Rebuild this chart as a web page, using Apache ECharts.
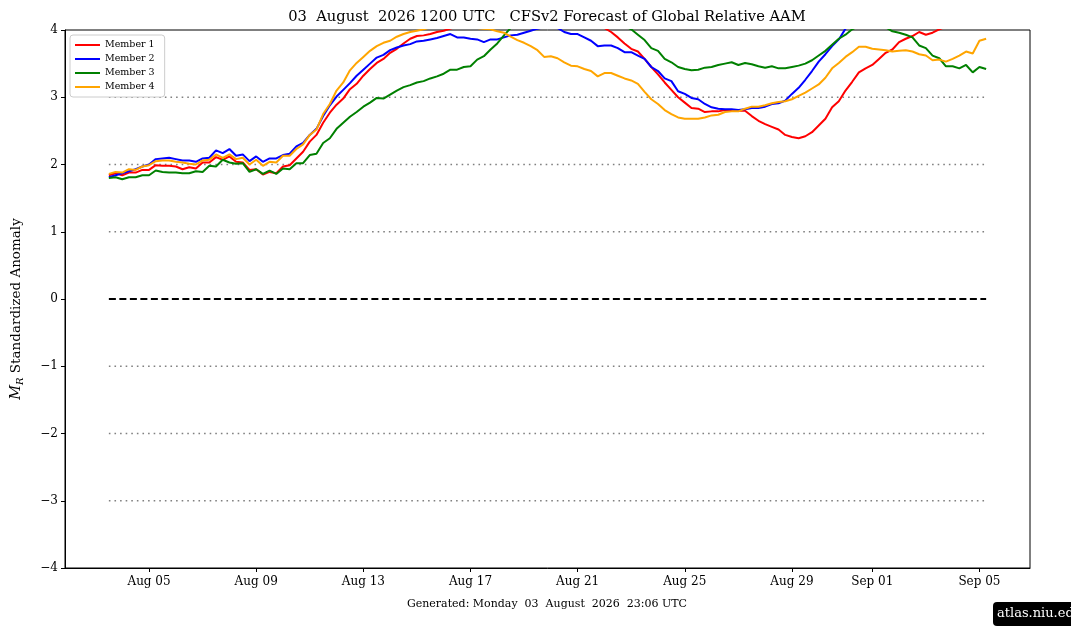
<!DOCTYPE html>
<html>
<head>
<meta charset="utf-8">
<title>CFSv2 Forecast of Global Relative AAM</title>
<script src="https://cdn.jsdelivr.net/npm/echarts@6/dist/echarts.min.js"></script>
<style>
    html,body{margin:0;padding:0;background:#fff;}
    #chart{width:1071px;height:638px;}
</style>
</head>
<body>
<div id="chart"></div>
<script>
// 数据：每6小时一个点，从 2026-08-03 12Z 开始
var memberNames = ['Member 1', 'Member 2', 'Member 3', 'Member 4'];
var memberColors = ['#ff0000', '#0000ff', '#008000', '#ffa500'];

var member1 = [1.84, 1.87, 1.84, 1.88, 1.88, 1.92, 1.92, 1.99, 1.98, 1.98, 1.97, 1.93, 1.96, 1.94, 2.03, 2.03, 2.11, 2.07, 2.12, 2.04, 2.03, 1.92, 1.93, 1.85, 1.89, 1.87, 1.97, 1.99, 2.09,
    2.19, 2.34, 2.44, 2.62, 2.77, 2.89, 2.98, 3.12, 3.20, 3.32, 3.42, 3.51, 3.57, 3.66, 3.72, 3.80, 3.87, 3.91, 3.92, 3.94, 3.97, 3.99,
    4.02, 4.05, 4.07, 4.09, 4.11, 4.13, 4.15, 4.16, 4.18, 4.19, 4.20, 4.21, 4.21, 4.20, 4.19, 4.18, 4.16, 4.14, 4.12, 4.10, 4.08, 4.06, 4.04,
    4.03, 3.97, 3.89, 3.80, 3.72, 3.68, 3.57, 3.45, 3.34, 3.22, 3.11, 3.00,
    2.92, 2.84, 2.83, 2.78, 2.79, 2.79, 2.81, 2.81, 2.80, 2.80, 2.72, 2.65, 2.60, 2.56, 2.52, 2.44, 2.41, 2.39, 2.42, 2.48, 2.58, 2.68, 2.85,
    2.94, 3.10, 3.23, 3.37, 3.43, 3.48, 3.57, 3.66, 3.71, 3.82, 3.87, 3.91, 3.97, 3.93, 3.96, 4.01,
    4.05, 4.08, 4.10, 4.12, 4.14, 4.15, 4.16];

var member2 = [1.81, 1.84, 1.87, 1.90, 1.93, 1.97, 2.00, 2.08, 2.09, 2.10, 2.08, 2.06, 2.06, 2.04, 2.09, 2.10, 2.21, 2.17, 2.23, 2.13, 2.15, 2.05, 2.12, 2.04, 2.09, 2.09, 2.14, 2.16, 2.27,
    2.32, 2.44, 2.53, 2.72, 2.88, 3.01, 3.11, 3.21, 3.32, 3.41, 3.50, 3.59, 3.63, 3.70, 3.74, 3.77, 3.79, 3.83, 3.84, 3.86, 3.88, 3.91, 3.94, 3.89, 3.89, 3.87, 3.86, 3.82, 3.86,
    3.86, 3.89, 3.92, 3.93, 3.96, 3.99, 4.02, 4.04, 4.05, 4.03, 3.97, 3.94, 3.94, 3.89, 3.84, 3.76, 3.77, 3.77, 3.73, 3.67, 3.67, 3.62, 3.57, 3.45, 3.39, 3.28, 3.24, 3.09,
    3.05, 2.99, 2.97, 2.90, 2.85, 2.83, 2.82, 2.82, 2.81, 2.82, 2.84, 2.84, 2.86, 2.90, 2.91, 2.95, 3.05, 3.14, 3.26, 3.39, 3.53, 3.64, 3.76, 3.86, 4.02,
    4.10, 4.18, 4.25, 4.31, 4.36, 4.40, 4.43, 4.45, 4.46, 4.46, 4.45, 4.43, 4.41, 4.38, 4.35, 4.33, 4.31, 4.30, 4.29, 4.28, 4.27];

var member3 = [1.80, 1.81, 1.78, 1.81, 1.81, 1.84, 1.84, 1.91, 1.89, 1.88, 1.88, 1.87, 1.87, 1.90, 1.89, 1.98, 1.97, 2.07, 2.03, 2.01, 2.02, 1.89, 1.93, 1.86, 1.91, 1.86, 1.94, 1.93, 2.02,
    2.02, 2.14, 2.16, 2.32, 2.39, 2.53, 2.62, 2.71, 2.78, 2.86, 2.92, 2.99, 2.98, 3.04, 3.10, 3.15, 3.18, 3.22, 3.24, 3.28, 3.31, 3.35, 3.41, 3.41, 3.45, 3.46, 3.56, 3.61, 3.71, 3.80, 3.92, 4.03,
    4.12, 4.20, 4.27, 4.33, 4.38, 4.41, 4.43, 4.44, 4.43, 4.41, 4.38, 4.34, 4.29, 4.23, 4.17, 4.11, 4.06,
    4.01, 3.93, 3.85, 3.73, 3.69, 3.57, 3.52, 3.45,
    3.42, 3.40, 3.41, 3.44, 3.45, 3.48, 3.50, 3.52, 3.48, 3.51, 3.49, 3.46, 3.44, 3.46, 3.43, 3.43, 3.45, 3.47, 3.50, 3.55, 3.62, 3.69, 3.78, 3.87, 3.93, 4.01,
    4.06, 4.09, 4.10, 4.08, 4.04,
    3.98, 3.96, 3.93, 3.89, 3.77, 3.73, 3.62, 3.58, 3.46, 3.46, 3.43, 3.48, 3.37, 3.45, 3.42];

var member4 = [1.86, 1.89, 1.88, 1.93, 1.92, 1.97, 1.99, 2.05, 2.06, 2.06, 2.04, 2.03, 2.01, 2.00, 2.06, 2.07, 2.15, 2.10, 2.15, 2.08, 2.10, 2.00, 2.07, 1.98, 2.04, 2.03, 2.13, 2.13, 2.23,
    2.30, 2.44, 2.52, 2.75, 2.90, 3.10, 3.22, 3.40, 3.51, 3.60, 3.69, 3.76, 3.81, 3.84, 3.90, 3.94, 3.97, 3.99, 4.01,
    4.04, 4.06, 4.08, 4.09, 4.08, 4.07, 4.05, 4.03, 4.02, 4.01,
    3.98, 3.96, 3.90, 3.85, 3.81, 3.76, 3.70, 3.60, 3.61, 3.58, 3.52, 3.47, 3.46, 3.42, 3.39, 3.31, 3.36, 3.36, 3.32, 3.28, 3.25, 3.20, 3.08, 2.97, 2.90, 2.81, 2.75, 2.70,
    2.68, 2.68, 2.68, 2.70, 2.73, 2.74, 2.78, 2.79, 2.79, 2.83, 2.86, 2.86, 2.88, 2.91, 2.93, 2.94, 2.97, 3.02, 3.07, 3.13, 3.19, 3.29, 3.43, 3.51, 3.60,
    3.67, 3.75, 3.75, 3.72, 3.71, 3.70, 3.68, 3.69, 3.70, 3.68, 3.64, 3.62, 3.55, 3.56, 3.53, 3.57, 3.62, 3.68, 3.65, 3.84, 3.87];

var refLevels = [-3, -2, -1, 1, 2, 3];
var tickDates = ['2026-08-05', '2026-08-09', '2026-08-13', '2026-08-17', '2026-08-21', '2026-08-25', '2026-08-29', '2026-09-01', '2026-09-05'];
var startTime = Date.UTC(2026, 7, 3, 12);
var stepMs = 6 * 3600 * 1000;

var serifFont = 'DejaVu Serif';
var monthNames = ['Jan', 'Feb', 'Mar', 'Apr', 'May', 'Jun', 'Jul', 'Aug', 'Sep', 'Oct', 'Nov', 'Dec'];

function toPairs(arr) {
    return arr.map(function (v, i) {
        return [startTime + i * stepMs, v];
    });
}

var allSeries = [member1, member2, member3, member4];
var firstTime = startTime;
var lastTime = startTime + (member1.length - 1) * stepMs;
var span = lastTime - firstTime;

var tickValues = tickDates.map(function (d) {
    return Date.parse(d + 'T00:00:00Z');
});

var series = [];

// 参考线（虚线）
refLevels.forEach(function (lv) {
    series.push({
        type: 'line',
        data: [[firstTime, lv], [lastTime, lv]],
        symbol: 'none',
        silent: true,
        z: 1,
        lineStyle: {color: '#808080', width: 1.6, type: [1.6, 4]}
    });
});
series.push({
    type: 'line',
    data: [[firstTime, 0], [lastTime, 0]],
    symbol: 'none',
    silent: true,
    z: 1,
    lineStyle: {color: '#000', width: 2, type: [7, 3.5]}
});

allSeries.forEach(function (arr, k) {
    series.push({
        name: memberNames[k],
        type: 'line',
        data: toPairs(arr),
        symbol: 'none',
        z: 2 + k,
        color: memberColors[k],
        lineStyle: {width: 2}
    });
});

var chart = echarts.init(document.getElementById('chart'));
var option = {
    animation: false,
    backgroundColor: '#fff',
    textStyle: {fontFamily: serifFont},
    grid: {left: 65, right: 41, top: 30, bottom: 70, show: true, borderColor: '#000', borderWidth: 1, backgroundColor: 'transparent'},
    legend: {
        data: memberNames,
        orient: 'vertical',
        left: 70,
        top: 35,
        itemWidth: 25,
        itemHeight: 2,
        itemGap: 4,
        icon: 'rect',
        padding: [5, 10, 5, 5],
        backgroundColor: '#fff',
        borderColor: '#cccccc',
        borderWidth: 1,
        borderRadius: 3,
        textStyle: {fontFamily: serifFont, fontSize: 9.5, color: '#000'}
    },
    xAxis: {
        type: 'value',
        min: firstTime - span * 0.05,
        max: lastTime + span * 0.05,
        axisLine: {show: true, onZero: false, lineStyle: {color: '#000', width: 1}},
        axisTick: {show: true, customValues: tickValues, length: 4, lineStyle: {color: '#000'}},
        splitLine: {show: false},
        axisLabel: {
            customValues: tickValues,
            color: '#000',
            fontSize: 12,
            fontFamily: serifFont,
            margin: 8,
            formatter: function (val) {
                var d = new Date(val);
                var dd = d.getUTCDate();
                return monthNames[d.getUTCMonth()] + ' ' + (dd < 10 ? '0' + dd : dd);
            }
        }
    },
    yAxis: {
        type: 'value',
        min: -4,
        max: 4,
        interval: 1,
        name: '{m|M}{s|R} Standardized Anomaly',
        nameLocation: 'middle',
        nameGap: 40,
        nameTextStyle: {
            color: '#000',
            fontSize: 13.5,
            fontFamily: serifFont,
            padding: [0, 20, 0, 0],
            rich: {
                m: {fontSize: 14.5, fontStyle: 'italic', fontFamily: serifFont, color: '#000'},
                s: {fontSize: 10, fontStyle: 'italic', fontFamily: serifFont, color: '#000', padding: [7, 0, 0, 0]}
            }
        },
        axisLine: {show: true, onZero: false, lineStyle: {color: '#000', width: 1}},
        axisTick: {show: true, length: 4, lineStyle: {color: '#000'}},
        splitLine: {show: false},
        axisLabel: {
            color: '#000',
            fontSize: 12,
            fontFamily: serifFont,
            margin: 7,
            formatter: function (v) {
                return String(v).replace('-', '\u2212');
            }
        }
    },
    graphic: [
        {
            type: 'text',
            x: 547,
            y: 17,
            style: {
                text: '03  August  2026 1200 UTC   CFSv2 Forecast of Global Relative AAM',
                font: '14.7px "' + serifFont + '"',
                fill: '#000',
                align: 'center',
                verticalAlign: 'middle'
            }
        },
        {
            type: 'text',
            x: 547,
            y: 604,
            style: {
                text: 'Generated: Monday  03  August  2026  23:06 UTC',
                font: '11px "' + serifFont + '"',
                fill: '#000',
                align: 'center',
                verticalAlign: 'middle'
            }
        },
        {
            type: 'rect',
            shape: {x: 993, y: 602, width: 90, height: 24, r: 4},
            style: {fill: '#000'}
        },
        {
            type: 'text',
            x: 997,
            y: 614,
            style: {
                text: 'atlas.niu.edu',
                font: '13px "' + serifFont + '"',
                fill: '#fff',
                verticalAlign: 'middle'
            }
        }
    ],
    series: series
};
chart.setOption(option);
</script>
</body>
</html>
